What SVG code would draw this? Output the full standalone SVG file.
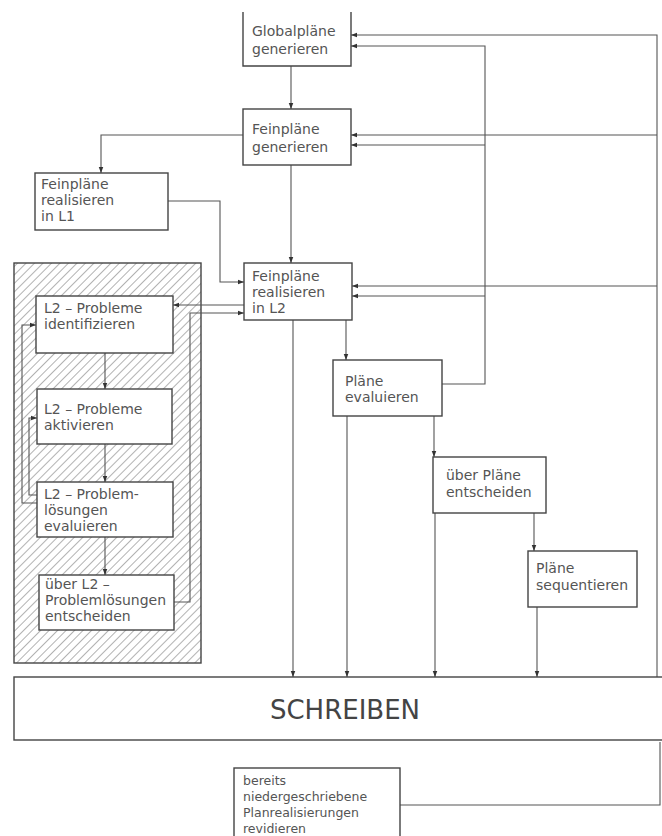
<svg xmlns="http://www.w3.org/2000/svg" width="662" height="836" viewBox="0 0 662 836">
<defs>
<marker id="ah" viewBox="0 0 8 8" refX="8" refY="4" markerWidth="6" markerHeight="6" orient="auto" markerUnits="userSpaceOnUse"><path d="M0,1 L8,4 L0,7 z" fill="#333"/></marker>
<pattern id="hatch" patternUnits="userSpaceOnUse" width="6" height="6" patternTransform="rotate(45)"><line x1="0" y1="0" x2="0" y2="6" stroke="#666" stroke-width="1"/></pattern>
</defs>
<style>
.box{fill:#fff;stroke:#444;stroke-width:1.4}
.t{font-family:"DejaVu Sans","Liberation Sans",sans-serif;font-size:14px;fill:#555}
.s{font-size:12.5px}
.big{font-family:"DejaVu Sans","Liberation Sans",sans-serif;font-size:26px;fill:#444;text-anchor:middle}
.c{fill:none;stroke:#555;stroke-width:1.1}
.a{marker-end:url(#ah)}
</style>
<rect width="662" height="836" fill="#fff"/>
<g id="l2-bereich">
<rect x="14" y="263" width="187" height="400" fill="url(#hatch)" stroke="#444" stroke-width="1.4"/>
</g>
<g id="connectors">
<path class="c a" d="M291,66 V109"/>
<path class="c a" d="M243,135 H101 V173"/>
<path class="c a" d="M291,165 V263"/>
<path class="c a" d="M168,201 H220 V282 H244"/>
<path class="c a" d="M244,305 H173"/>
<path class="c a" d="M174,602 H190 V313 H244"/>
<path class="c a" d="M105,353 V389"/>
<path class="c a" d="M105,444 V482"/>
<path class="c a" d="M105,537 V575"/>
<path class="c a" d="M37,503 H22 V325 H36"/>
<path class="c a" d="M37,495 H29 V418 H37"/>
<path class="c a" d="M346,320 V360"/>
<path class="c a" d="M293,320 V677"/>
<path class="c a" d="M442,384 H485 V46 H351"/>
<path class="c a" d="M485,145 H351"/>
<path class="c a" d="M485,296 H352"/>
<path class="c a" d="M434,416 V457"/>
<path class="c a" d="M347,416 V677"/>
<path class="c a" d="M435,513 V677"/>
<path class="c a" d="M534,513 V551"/>
<path class="c a" d="M537,607 V677"/>
<path class="c a" d="M657,677 V35 H351"/>
<path class="c a" d="M657,135 H351"/>
<path class="c a" d="M657,286 H352"/>
<path class="c" d="M400,805 H660 V742"/>
</g>
<g id="globalplaene">
<path class="box" d="M243,12 V66 H351 V12"/>
<text class="t" x="252" y="36">Globalpläne</text>
<text class="t" x="252" y="54">generieren</text>
</g>
<g id="feinplaene-generieren">
<rect class="box" x="243" y="109" width="108" height="56"/>
<text class="t" x="252" y="134">Feinpläne</text>
<text class="t" x="252" y="152">generieren</text>
</g>
<g id="feinplaene-l1">
<rect class="box" x="35" y="173" width="133" height="57"/>
<text class="t" x="41" y="189">Feinpläne</text>
<text class="t" x="41" y="205">realisieren</text>
<text class="t" x="41" y="221">in L1</text>
</g>
<g id="feinplaene-l2">
<rect class="box" x="244" y="263" width="108" height="57"/>
<text class="t" x="252" y="281">Feinpläne</text>
<text class="t" x="252" y="297">realisieren</text>
<text class="t" x="252" y="313">in L2</text>
</g>
<g id="l2-identifizieren">
<rect class="box" x="36" y="296" width="137" height="57"/>
<text class="t" x="44" y="313">L2 – Probleme</text>
<text class="t" x="44" y="329">identifizieren</text>
</g>
<g id="l2-aktivieren">
<rect class="box" x="37" y="389" width="135" height="55"/>
<text class="t" x="44" y="414">L2 – Probleme</text>
<text class="t" x="44" y="430">aktivieren</text>
</g>
<g id="l2-evaluieren">
<rect class="box" x="37" y="482" width="136" height="55"/>
<text class="t" x="44" y="499">L2 – Problem-</text>
<text class="t" x="44" y="515">lösungen</text>
<text class="t" x="44" y="531">evaluieren</text>
</g>
<g id="l2-entscheiden">
<rect class="box" x="39" y="575" width="135" height="55"/>
<text class="t" x="45" y="589">über L2 –</text>
<text class="t" x="45" y="605">Problemlösungen</text>
<text class="t" x="45" y="621">entscheiden</text>
</g>
<g id="plaene-evaluieren">
<rect class="box" x="333" y="360" width="109" height="56"/>
<text class="t" x="345" y="386">Pläne</text>
<text class="t" x="345" y="402">evaluieren</text>
</g>
<g id="plaene-entscheiden">
<rect class="box" x="433" y="457" width="113" height="56"/>
<text class="t" x="446" y="480">über Pläne</text>
<text class="t" x="446" y="497">entscheiden</text>
</g>
<g id="plaene-sequentieren">
<rect class="box" x="528" y="551" width="109" height="56"/>
<text class="t" x="536" y="573">Pläne</text>
<text class="t" x="536" y="590">sequentieren</text>
</g>
<g id="schreiben">
<rect class="box" x="14" y="677" width="660" height="63"/>
<text class="big" x="345" y="719">SCHREIBEN</text>
</g>
<g id="revidieren">
<rect class="box" x="234" y="768" width="166" height="75"/>
<text class="t s" x="243" y="785">bereits</text>
<text class="t s" x="243" y="801">niedergeschriebene</text>
<text class="t s" x="243" y="817">Planrealisierungen</text>
<text class="t s" x="243" y="833">revidieren</text>
</g>
</svg>
